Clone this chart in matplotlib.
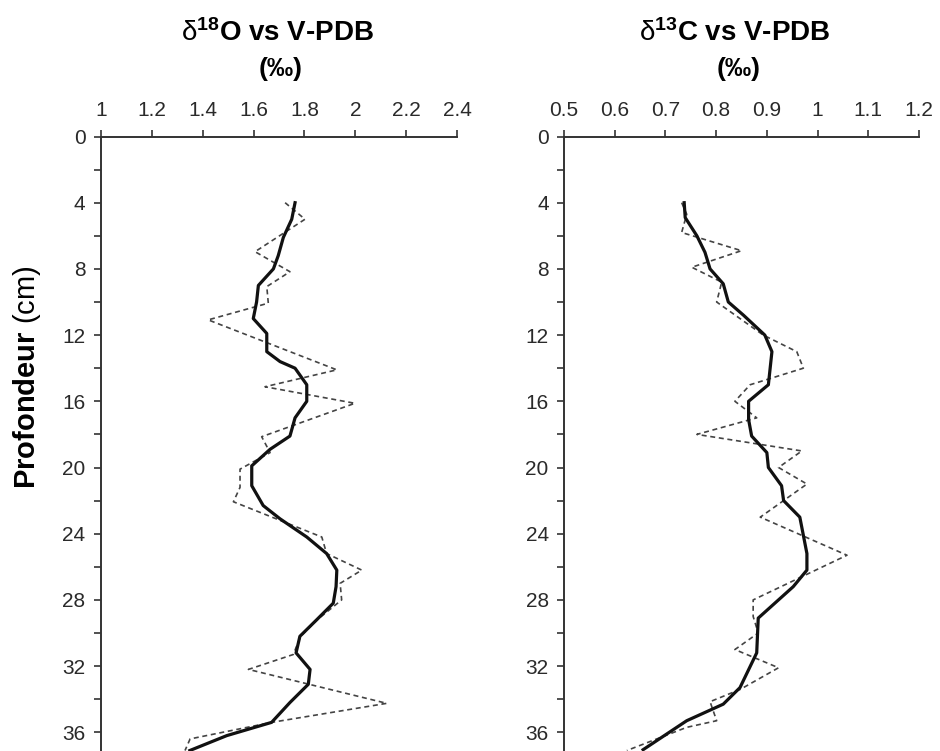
import matplotlib

matplotlib.use("Agg")
import matplotlib.pyplot as plt
from matplotlib.ticker import MultipleLocator

plt.rcParams["font.family"] = ["Liberation Sans", "DejaVu Sans"]
plt.rcParams["mathtext.fontset"] = "custom"
plt.rcParams["mathtext.rm"] = "Liberation Sans"
plt.rcParams["mathtext.bf"] = "Liberation Sans:bold"
plt.rcParams["mathtext.it"] = "Liberation Sans:italic"

# d18O profile: raw samples (dashed) and smoothed curve (solid)
o18_raw_depth = [4.0, 5.0, 6.96, 8.17, 9.07, 10.07, 11.08, 14.1, 15.12, 16.12,
                 18.14, 19.1, 20.1, 21.2, 22.07, 24.2, 25.2, 26.2, 27.0, 28.0,
                 29.2, 30.2, 31.3, 32.2, 34.25, 35.4, 36.4, 37.1]
o18_raw = [1.724, 1.802, 1.606, 1.743, 1.652, 1.658, 1.422, 1.927, 1.645, 1.998,
           1.632, 1.665, 1.547, 1.547, 1.521, 1.868, 1.887, 2.025, 1.940, 1.946,
           1.850, 1.785, 1.756, 1.580, 2.123, 1.671, 1.351, 1.331]
o18_smooth_depth = [4.0, 5.0, 6.1, 7.2, 8.0, 9.0, 10.0, 11.0, 11.9, 13.0, 13.6,
                    14.0, 15.0, 16.0, 17.0, 18.1, 18.9, 19.9, 21.1, 22.3, 23.1,
                    24.2, 25.2, 26.2, 27.2, 28.2, 29.2, 30.2, 31.2, 32.2, 33.1,
                    34.2, 35.4, 36.2, 37.1]
o18_smooth = [1.763, 1.750, 1.717, 1.697, 1.678, 1.619, 1.612, 1.599, 1.652,
              1.652, 1.704, 1.763, 1.809, 1.809, 1.763, 1.743, 1.665, 1.593,
              1.593, 1.638, 1.704, 1.809, 1.887, 1.927, 1.924, 1.913, 1.848,
              1.782, 1.767, 1.822, 1.815, 1.743, 1.671, 1.495, 1.350]

# d13C profile
c13_raw_depth = [4.0, 4.7, 5.8, 6.9, 7.9, 8.8, 10.0, 12.0, 13.0, 14.0, 15.0,
                 16.0, 17.0, 18.0, 19.0, 20.0, 21.0, 23.0, 25.3, 28.0, 29.0,
                 30.0, 31.0, 32.1, 33.4, 34.15, 35.3, 35.7, 37.1]
c13_raw = [0.732, 0.742, 0.732, 0.850, 0.752, 0.811, 0.801, 0.893, 0.959, 0.972,
           0.867, 0.837, 0.880, 0.762, 0.969, 0.923, 0.979, 0.887, 1.058, 0.873,
           0.873, 0.883, 0.837, 0.923, 0.848, 0.788, 0.801, 0.742, 0.624]
c13_smooth_depth = [4.0, 4.9, 6.0, 7.0, 8.0, 8.9, 10.0, 10.8, 12.0, 13.0, 15.0,
                    16.0, 17.1, 18.1, 19.1, 20.0, 21.1, 22.0, 23.0, 25.2, 26.2,
                    27.2, 29.1, 31.2, 33.3, 34.3, 35.3, 37.05]
c13_smooth = [0.737, 0.739, 0.762, 0.778, 0.788, 0.814, 0.824, 0.854, 0.896,
              0.910, 0.903, 0.864, 0.864, 0.870, 0.900, 0.903, 0.929, 0.933,
              0.965, 0.979, 0.979, 0.952, 0.883, 0.880, 0.847, 0.814, 0.742,
              0.656]

o18_ticks = [1, 1.2, 1.4, 1.6, 1.8, 2, 2.2, 2.4]
o18_labels = ["1", "1.2", "1.4", "1.6", "1.8", "2", "2.2", "2.4"]
c13_ticks = [0.5, 0.6, 0.7, 0.8, 0.9, 1.0, 1.1, 1.2]
c13_labels = ["0.5", "0.6", "0.7", "0.8", "0.9", "1", "1.1", "1.2"]
depth_ticks = [0, 4, 8, 12, 16, 20, 24, 28, 32, 36]

W, H = 940, 751
MAX_DEPTH = (H - 136.5) / 16.55


def style_axis(ax, ticks, labels):
    """Top x axis, depth increasing downwards, only left and top spines."""
    ax.set_xlim(ticks[0], ticks[-1])
    ax.set_ylim(MAX_DEPTH, 0)
    ax.set_xticks(ticks)
    ax.set_xticklabels(labels)
    ax.set_yticks(depth_ticks)
    ax.yaxis.set_minor_locator(MultipleLocator(2))
    ax.xaxis.tick_top()
    for side in ("right", "bottom"):
        ax.spines[side].set_visible(False)
    for side in ("left", "top"):
        ax.spines[side].set_linewidth(1.4)
        ax.spines[side].set_color("#333333")
    ax.tick_params(which="both", direction="out", length=5, width=1.2,
                   color="#333333", labelsize=15, labelcolor="#2a2a2a")
    ax.tick_params(axis="x", pad=7)
    ax.tick_params(axis="y", pad=6)


def plot_profile(ax, raw_d, raw, sm_d, sm):
    ax.plot(raw, raw_d, color="#444444", lw=1.2, dashes=(3, 2.2))
    ax.plot(sm, sm_d, color="#111111", lw=2.3, solid_joinstyle="round")


fig = plt.figure(figsize=(W / 100, H / 100), dpi=100)
ax1 = fig.add_axes([100.7 / W, 0, (457.3 - 100.7) / W, (H - 136.5) / H])
ax2 = fig.add_axes([564 / W, 0, (919 - 564) / W, (H - 136.5) / H])

plot_profile(ax1, o18_raw_depth, o18_raw, o18_smooth_depth, o18_smooth)
plot_profile(ax2, c13_raw_depth, c13_raw, c13_smooth_depth, c13_smooth)
style_axis(ax1, o18_ticks, o18_labels)
style_axis(ax2, c13_ticks, c13_labels)

for xc, iso, el in ((277, "18", "O"), (735, "13", "C")):
    fig.text(xc / W, 1 - 41 / H,
             r"$\mathrm{\delta}^{\mathbf{" + iso + r"}}$" + el + " vs V-PDB",
             ha="center", va="baseline", fontsize=20, fontweight="bold")
    fig.text((xc + 4) / W, 1 - 69 / H, "(‰)", ha="center", va="center",
             fontsize=19, fontweight="bold")

fig.text(27 / W, 1 - 377 / H, r"$\mathbf{Profondeur}$ (cm)", rotation=90,
         ha="center", va="center", fontsize=21)

fig.savefig("out.png", dpi=100)
